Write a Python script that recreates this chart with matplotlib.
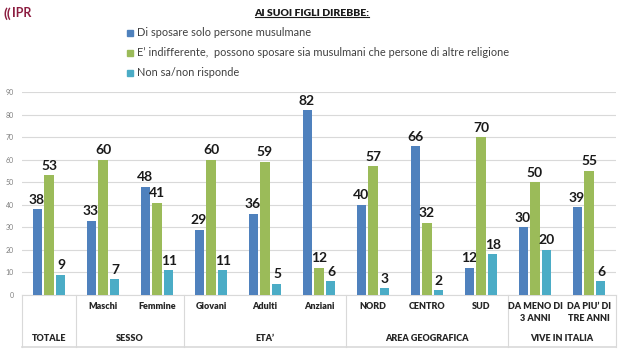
import matplotlib.pyplot as plt
import matplotlib.transforms as mtransforms
import numpy as np

plt.rcParams['font.family'] = ['Lato', 'DejaVu Sans']

# dati
sottocategorie = ['', 'Maschi', 'Femmine', 'Giovani', 'Adulti', 'Anziani',
                  'NORD', 'CENTRO', 'SUD', 'DA MENO DI\n3 ANNI', 'DA PIU’ DI\nTRE ANNI']
gruppi = ['TOTALE', 'SESSO', 'ETA’', 'AREA GEOGRAFICA', 'VIVE IN ITALIA']
gruppi_da = [0, 1, 3, 6, 9]
gruppi_a = [0, 2, 5, 8, 10]

solo_musulmane = [38, 33, 48, 29, 36, 82, 40, 66, 12, 30, 39]
indifferente = [53, 60, 41, 60, 59, 12, 57, 32, 70, 50, 55]
non_sa = [9, 7, 11, 11, 5, 6, 3, 2, 18, 20, 6]

serie = [solo_musulmane, indifferente, non_sa]
nomi = ['Di sposare solo persone musulmane',
        'E’ indifferente,  possono sposare sia musulmani che persone di altre religione',
        'Non sa/non risponde']
colori = ['#4F81BD', '#9BBB59', '#4BACC6']

fig = plt.figure(figsize=(6.26, 3.5), dpi=100)
ax = fig.add_axes([22 / 626, 55 / 350, 594 / 626, 203 / 350])

x = np.arange(len(sottocategorie))
larg = 0.167
spost = 0.222
for i, (vals, col) in enumerate(zip(serie, colori)):
    pos = x + (i - 1) * spost
    ax.bar(pos, vals, width=larg, color=col, zorder=3)
    for p, v in zip(pos, vals):
        ax.annotate(str(v), (p, v), xytext=(0, 2.5), textcoords='offset points',
                    ha='center', va='bottom', fontsize=10, fontweight='bold',
                    color='#1a1a1a')

ax.set_xlim(-0.5, len(sottocategorie) - 0.5)
ax.set_ylim(0, 90)
ax.set_yticks(range(0, 91, 10))
ax.tick_params(axis='y', labelsize=5, colors='#7f7f7f', length=0, pad=6)
ax.set_xticks([])
ax.grid(axis='y', color='#d9d9d9', linewidth=0.8, zorder=0)
for s in ['top', 'right', 'left']:
    ax.spines[s].set_visible(False)
ax.spines['bottom'].set_color('#d9d9d9')

# tabella categorie sotto l'asse
tr = mtransforms.blended_transform_factory(ax.transData, ax.transAxes)
fondo = -0.256
for b in [-0.5, 0.5, 2.5, 5.5, 8.5, 10.5]:
    ax.plot([b, b], [0, fondo], transform=tr, color='#d9d9d9', lw=0.8, clip_on=False)
ax.plot([-0.5, 10.5], [fondo, fondo], transform=tr, color='#d9d9d9', lw=1.2, clip_on=False)

for xi, lab in zip(x, sottocategorie):
    ax.text(xi, -0.035, lab, transform=tr, ha='center', va='top', fontsize=6.5,
            fontweight='heavy', color='#262626', linespacing=1.4)
for g, a, b in zip(gruppi, gruppi_da, gruppi_a):
    ax.text((a + b) / 2, -0.212, g, transform=tr, ha='center', va='center',
            fontsize=6.5, fontweight='heavy', color='#262626')

# titolo sottolineato
tit = fig.text(312 / 626, 1 - 13 / 350, 'AI SUOI FIGLI DIREBBE:', ha='center', va='center',
               fontsize=7.5, fontweight='heavy', color='#1a1a1a')
fig.canvas.draw()
bb = tit.get_window_extent().transformed(fig.transFigure.inverted())
fig.add_artist(plt.Line2D([bb.x0, bb.x1], [bb.y0 + 0.001, bb.y0 + 0.001],
                          transform=fig.transFigure, color='#1a1a1a', lw=0.8))

# legenda
for i, (nome, col) in enumerate(zip(nomi, colori)):
    yy = 1 - (33 + 20 * i) / 350
    fig.patches.append(plt.Rectangle((127 / 626, yy - 3 / 350), 6 / 626, 6 / 350,
                                     transform=fig.transFigure, color=col))
    fig.text(137 / 626, yy, nome, ha='left', va='center', fontsize=7.9, color='#404040')

# logo
fig.text(4 / 626, 1 - 14 / 350, '((', ha='left', va='center', fontsize=10,
         color='#8c1d40', fontweight='bold')
fig.text(12 / 626, 1 - 13 / 350, 'IPR', ha='left', va='center', fontsize=9,
         color='#8c1d40', fontweight='bold')

fig.savefig('out.png', dpi=100)
